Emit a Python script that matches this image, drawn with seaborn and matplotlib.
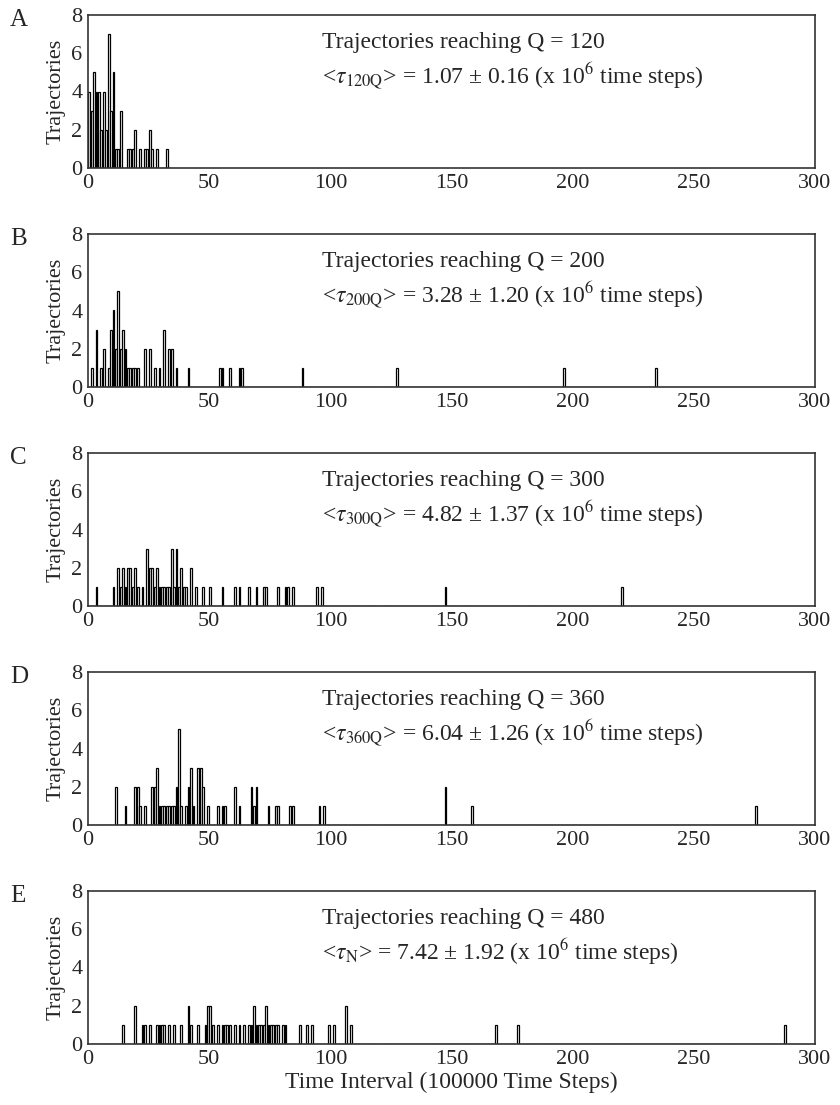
import matplotlib
matplotlib.use("Agg")
import matplotlib.pyplot as plt
import seaborn as sns
import pandas as pd

# ---------------- data (left edge of 1-unit bins, counts) ----------------
posA = [0, 1, 2, 3, 4, 5, 6, 7, 8, 9, 10, 11, 12, 13, 16, 17, 18, 19, 21, 23, 24, 25, 26, 28, 32]
cntA = [4, 3, 5, 4, 4, 2, 4, 2, 7, 3, 5, 1, 1, 3, 1, 1, 1, 2, 1, 1, 1, 2, 1, 1, 1]

posB = [1, 3, 5, 6, 8, 9, 10, 11, 12, 13, 14, 15, 16, 17, 18, 19, 20, 23, 25, 27, 29, 31, 33, 34,
        36, 41, 54, 55, 58, 62, 63, 88, 127, 196, 234]
cntB = [1, 3, 1, 2, 1, 3, 4, 2, 5, 2, 3, 2, 1, 1, 1, 1, 1, 2, 2, 1, 1, 3, 2, 2,
        1, 1, 1, 1, 1, 1, 1, 1, 1, 1, 1]

posC = [3, 10, 12, 13, 14, 15, 16, 17, 18, 19, 20, 22, 24, 25, 26, 27, 28, 29, 30, 31, 32, 33, 34, 35,
        36, 37, 38, 39, 40, 42, 44, 47, 50, 55, 60, 62, 66, 69, 72, 73, 78, 81, 82, 84, 94, 96, 147, 220]
cntC = [1, 1, 2, 1, 2, 1, 2, 2, 1, 2, 1, 1, 3, 2, 2, 1, 2, 1, 1, 1, 1, 1, 3, 1,
        3, 1, 2, 1, 1, 2, 1, 1, 1, 1, 1, 1, 1, 1, 1, 1, 1, 1, 1, 1, 1, 1, 1, 1]

posD = [11, 15, 19, 20, 21, 23, 26, 27, 28, 29, 30, 31, 32, 33, 34, 35, 36, 37, 38, 40, 41, 42, 43,
        45, 46, 47, 49, 53, 55, 56, 60, 62, 67, 68, 69, 74, 77, 78, 83, 84, 95, 97, 147, 158, 275]
cntD = [2, 1, 2, 2, 1, 1, 2, 2, 3, 1, 1, 1, 1, 1, 1, 1, 2, 5, 1, 1, 2, 3, 1,
        3, 3, 2, 1, 1, 1, 1, 2, 1, 2, 1, 2, 1, 1, 1, 1, 1, 1, 1, 2, 1, 1]

posE = [14, 19, 22, 23, 25, 28, 29, 30, 31, 33, 35, 38, 41, 42, 45, 48, 49, 50, 51, 53, 55, 56, 57,
        58, 60, 62, 64, 66, 67, 68, 69, 70, 71, 72, 73, 74, 75, 76, 77, 78, 80, 81, 87, 90, 92, 99,
        101, 106, 108, 168, 177, 287]
cntE = [1, 2, 1, 1, 1, 1, 1, 1, 1, 1, 1, 1, 2, 1, 1, 1, 2, 2, 1, 1, 1, 1, 1,
        1, 1, 1, 1, 1, 1, 2, 1, 1, 1, 1, 2, 1, 1, 1, 1, 1, 1, 1, 1, 1, 1, 1,
        1, 2, 1, 1, 1, 1]

panel_letters = ["A", "B", "C", "D", "E"]
q_values = ["120", "200", "300", "360", "480"]
tau_subs = ["120Q", "200Q", "300Q", "360Q", "N"]
tau_means = ["1.07", "3.28", "4.82", "6.04", "7.42"]
tau_errs = ["0.16", "1.20", "1.37", "1.26", "1.92"]
x_ticks = [0, 50, 100, 150, 200, 250, 300]
y_ticks = [0, 2, 4, 6, 8]
y_label = "Trajectories"
x_label = "Time Interval (100000 Time Steps)"

positions = [posA, posB, posC, posD, posE]
counts = [cntA, cntB, cntC, cntD, cntE]

# ---------------- style ----------------
sns.set_style("white")
plt.rcParams["font.family"] = ["Liberation Serif", "DejaVu Serif"]
plt.rcParams["mathtext.fontset"] = "stix"

W, H = 840, 1105
fig = plt.figure(figsize=(W / 100, H / 100), dpi=100)

left_px, right_px = 88, 815
tops_px = [15, 234, 453, 672, 891]
h_px = 153

for i in range(5):
    top = tops_px[i]
    ax = fig.add_axes([left_px / W, 1 - (top + h_px) / H, (right_px - left_px) / W, h_px / H])
    df = pd.DataFrame({"t": positions[i], "n": counts[i]})
    sns.histplot(data=df, x="t", weights="n", binwidth=1,
                 binrange=(0, max(positions[i]) + 1), shrink=0.75,
                 color="white", edgecolor="black", linewidth=0.9, alpha=1.0, ax=ax)
    ax.set_xlim(0, 300)
    ax.set_ylim(0, 8)
    ax.set_xticks(x_ticks)
    ax.set_yticks(y_ticks)
    ax.tick_params(length=0, labelsize=16, pad=4)
    ax.set_ylabel(y_label, fontsize=16, labelpad=4)
    ax.set_xlabel("")
    for s in ax.spines.values():
        s.set_visible(True)
        s.set_color("#333333")
        s.set_linewidth(1.2)
    ax.text(0.322, 0.82, f"Trajectories reaching Q = {q_values[i]}",
            transform=ax.transAxes, fontsize=17, va="center", ha="left")
    ax.text(0.322, 0.60,
            rf"<$\tau_{{\mathrm{{{tau_subs[i]}}}}}$> = {tau_means[i]} ± {tau_errs[i]} (x 10$^{{6}}$ time steps)",
            transform=ax.transAxes, fontsize=17, va="center", ha="left")
    fig.text(10 / W, 1 - (top + 5) / H, panel_letters[i], fontsize=18, ha="left", va="center")

fig.text((left_px + right_px) / 2 / W, 1 - 1082 / H, x_label, fontsize=17, ha="center", va="center")

fig.savefig("out.png", dpi=100)
